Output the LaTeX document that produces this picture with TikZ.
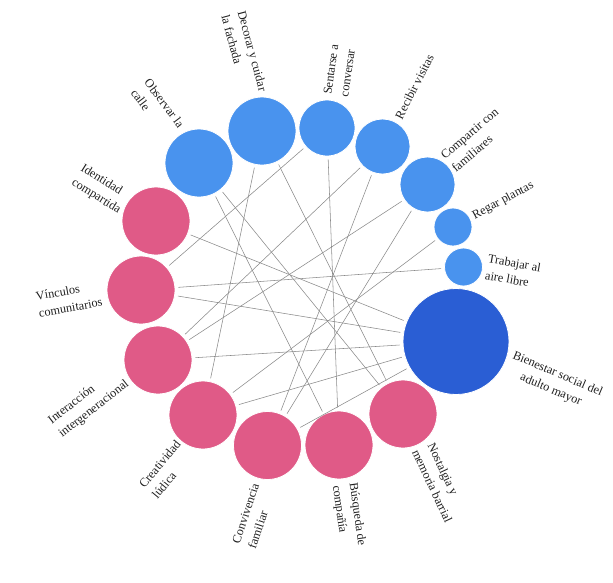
\documentclass[tikz,border=0pt]{standalone}
\usepackage{fontspec}
\setmainfont{Liberation Serif}
\definecolor{lblue}{HTML}{4993EE}
\definecolor{dblue}{HTML}{2A5ED4}
\definecolor{pink}{HTML}{E05A87}
\definecolor{linkgray}{HTML}{8A8A8A}
\begin{document}
\begin{tikzpicture}[x=1pt,y=-1pt,
  bub/.style={circle, draw=white, line width=0.8pt, inner sep=0pt},
  lb/.style={bub, fill=lblue},
  db/.style={bub, fill=dblue},
  pk/.style={bub, fill=pink},
  link/.style={draw=linkgray, line width=0.55pt, shorten <=3pt, shorten >=3pt},
  lab/.style={font=\fontsize{12.3}{17}\selectfont, inner sep=0pt, align=left, text=black!88}]
\useasboundingbox (0,0) rectangle (613,582);
% bubbles
\node[lb, minimum size=68pt] (obs) at (199,163) {};
\node[lb, minimum size=68pt] (dec) at (262,131) {};
\node[lb, minimum size=56pt] (sen) at (327,128) {};
\node[lb, minimum size=55pt] (rec) at (382.5,146.5) {};
\node[lb, minimum size=55pt] (com) at (427.5,184.5) {};
\node[lb, minimum size=38pt] (reg) at (453,227) {};
\node[lb, minimum size=38pt] (tra) at (463.5,267) {};
\node[db, minimum size=106pt] (bie) at (456,341.5) {};
\node[pk, minimum size=68pt] (nos) at (403,414) {};
\node[pk, minimum size=68pt] (bus) at (339,445) {};
\node[pk, minimum size=68pt] (con) at (267.5,445.5) {};
\node[pk, minimum size=68pt] (cre) at (203,415) {};
\node[pk, minimum size=68pt] (int) at (158,360) {};
\node[pk, minimum size=68pt] (vin) at (141,290) {};
\node[pk, minimum size=68pt] (ide) at (156,221) {};
% links
\draw[link] (obs) -- (bus);
\draw[link] (obs) -- (nos);
\draw[link] (dec) -- (cre);
\draw[link] (dec) -- (nos);
\draw[link] (sen) -- (bus);
\draw[link] (sen) -- (vin);
\draw[link] (rec) -- (int);
\draw[link] (rec) -- (con);
\draw[link] (com) -- (int);
\draw[link] (com) -- (con);
\draw[link] (reg) -- (cre);
\draw[link] (tra) -- (vin);
\draw[link] (bie) -- (ide);
\draw[link] (bie) -- (vin);
\draw[link] (bie) -- (int);
\draw[link] (bie) -- (cre);
\draw[link] (bie) -- (con);
% labels
\node[lab, anchor=east, rotate=-53] (l-obs) at (174.9,131.2) {Observar la\\calle};
\node[lab, anchor=east, rotate=-75] (l-dec) at (255,93.3) {Decorar y cuidar\\la fachada};
\node[lab, anchor=west, rotate=82] (l-sen) at (335.8,95.8) {Sentarse a\\conversar};
\node[lab, anchor=west, rotate=63] (l-rec) at (398.3,118.3) {Recibir visitas};
\node[lab, anchor=west, rotate=40.5] (l-com) at (447.8,163.3) {Compartir con\\familiares};
\node[lab, anchor=west, rotate=28] (l-reg) at (473.3,216.7) {Regar plantas};
\node[lab, anchor=west, rotate=-10] (l-tra) at (486.7,266.7) {Trabajar al\\aire libre};
\node[lab, anchor=west, rotate=-23, align=center] (l-bie) at (509.7,363.3) {Bienestar social del\\adulto mayor};
\node[lab, anchor=west, rotate=-65] (l-nos) at (423.3,446.7) {Nostalgia y\\memoria barrial};
\node[lab, anchor=west, rotate=-82] (l-bus) at (344.2,484.2) {Búsqueda de\\compañía};
\node[lab, anchor=east, rotate=71.5] (l-con) at (263.6,486.5) {Convivencia\\familiar};
\node[lab, anchor=east, rotate=50] (l-cre) at (184.8,447.3) {Creatividad\\lúdica};
\node[lab, anchor=east, rotate=38] (l-int) at (122.5,376.2) {Interacción\\intergeneracional};
\node[lab, anchor=east, rotate=10] (l-vin) at (100.9,293.4) {Vínculos\\comunitarios};
\node[lab, anchor=east, rotate=-32] (l-ide) at (124.2,204.2) {Identidad\\compartida};
\end{tikzpicture}
\end{document}
